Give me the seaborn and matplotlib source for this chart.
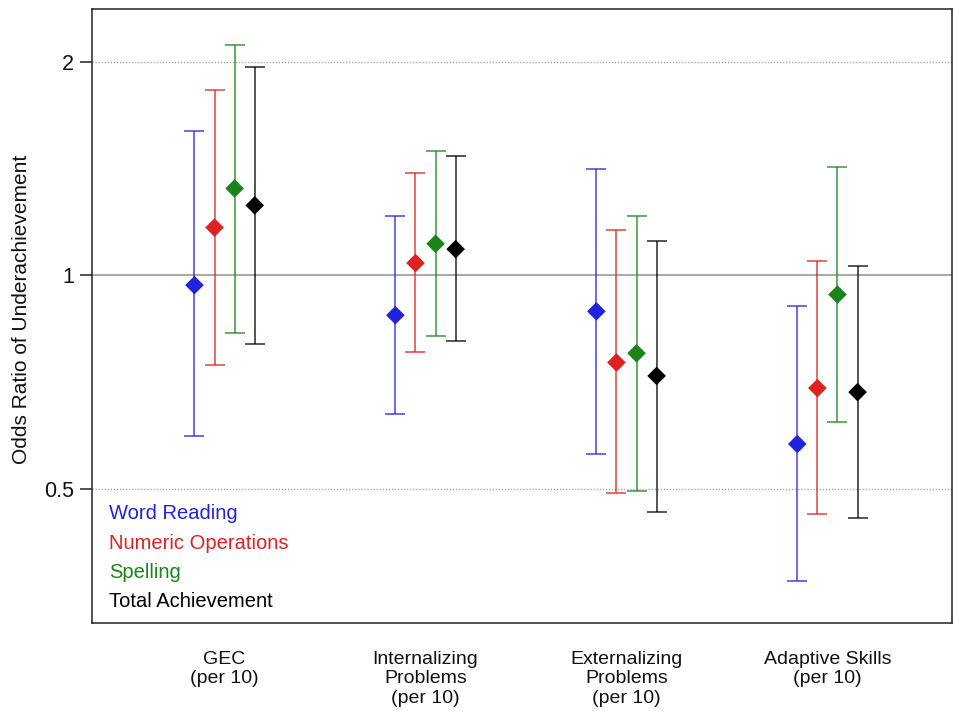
import numpy as np
import pandas as pd
import matplotlib
matplotlib.use("Agg")
import matplotlib.pyplot as plt
import seaborn as sns

# predictors on the x axis
groups = ["GEC\n(per 10)", "Internalizing\nProblems\n(per 10)",
          "Externalizing\nProblems\n(per 10)", "Adaptive Skills\n(per 10)"]
series = ["Word Reading", "Numeric Operations", "Spelling", "Total Achievement"]

# odds ratios and 95% CI
or_word = [0.968, 0.878, 0.889, 0.578]
lo_word = [0.593, 0.637, 0.559, 0.370]
hi_word = [1.596, 1.210, 1.413, 0.905]

or_num = [1.167, 1.040, 0.753, 0.693]
lo_num = [0.747, 0.778, 0.493, 0.460]
hi_num = [1.821, 1.391, 1.156, 1.048]

or_spell = [1.325, 1.107, 0.776, 0.939]
lo_spell = [0.830, 0.821, 0.497, 0.621]
hi_spell = [2.110, 1.494, 1.210, 1.421]

or_total = [1.254, 1.088, 0.721, 0.684]
lo_total = [0.800, 0.807, 0.464, 0.455]
hi_total = [1.965, 1.470, 1.118, 1.031]

colors = ["#2222dd", "#dd2222", "#1a841a", "#000000"]
offsets = [-0.15, -0.05, 0.05, 0.15]

rows = []
for s, o, l, h, off in zip(series, [or_word, or_num, or_spell, or_total],
                           [lo_word, lo_num, lo_spell, lo_total],
                           [hi_word, hi_num, hi_spell, hi_total], offsets):
    for i in range(len(groups)):
        rows.append({"series": s, "x": i + off, "OR": o[i], "lo": l[i], "hi": h[i]})
df = pd.DataFrame(rows)

sns.set_style("white")
plt.rcParams["font.family"] = ["Liberation Sans", "DejaVu Sans"]
plt.rcParams["text.color"] = "#111111"
plt.rcParams["xtick.color"] = "#111111"
plt.rcParams["ytick.color"] = "#111111"
plt.rcParams["axes.labelcolor"] = "#111111"

fig = plt.figure(figsize=(9.54, 7.11), dpi=100)
ax = fig.add_axes([0.0964, 0.1238, 0.9015, 0.8635])
ax.set_yscale("log")

# reference lines
ax.axhline(1, color="#999999", lw=1.2, zorder=0)
for v in [0.5, 2]:
    ax.axhline(v, color="#999999", lw=1, ls=(0, (0.8, 1.4)), zorder=0)

for s, c in zip(series, colors):
    d = df[df["series"] == s]
    ax.errorbar(d["x"], d["OR"], yerr=[d["OR"] - d["lo"], d["hi"] - d["OR"]],
                fmt="none", ecolor=c, elinewidth=1.1, capsize=7.5, capthick=1.1,
                alpha=0.85, zorder=2)

sns.scatterplot(data=df, x="x", y="OR", hue="series", palette=colors,
                marker="D", s=90, edgecolor="none", legend=False, ax=ax, zorder=3)

ax.set_xlim(-0.66, 3.62)
ax.set_ylim(0.3233, 2.372)
ax.set_xticks(range(len(groups)))
ax.set_xticklabels(groups, fontsize=14, linespacing=1.2, va="top")
ax.tick_params(axis="x", length=0, pad=20)
ax.set_yticks([0.5, 1, 2])
ax.set_yticklabels(["0.5", "1", "2"], fontsize=15.5)
ax.yaxis.set_minor_locator(matplotlib.ticker.NullLocator())
ax.tick_params(axis="y", which="major", direction="out", length=9, width=1.1,
               color="#222222", pad=4, left=True)
ax.set_xlabel("")
ax.set_ylabel("Odds Ratio of Underachievement", fontsize=15)
ax.yaxis.set_label_coords(-0.071, 0.51)

for sp in ax.spines.values():
    sp.set_color("#222222")
    sp.set_linewidth(1.1)

handles = [plt.Line2D([], [], color=c, linestyle="none") for c in colors]
leg = ax.legend(handles, series, loc="lower left", bbox_to_anchor=(0.0198, 0.02),
                frameon=False, handlelength=0, handletextpad=0, borderpad=0,
                borderaxespad=0, labelspacing=0.5, fontsize=14.5, labelcolor=colors)

fig.savefig("out.png", dpi=100)
